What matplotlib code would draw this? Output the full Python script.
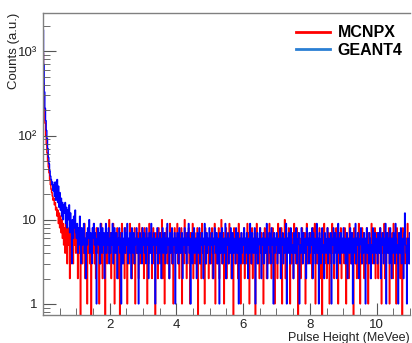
import numpy as np
import matplotlib
matplotlib.use("Agg")
import matplotlib.pyplot as plt
from matplotlib.ticker import FixedLocator, MultipleLocator, LogLocator, FixedFormatter, NullFormatter
from matplotlib.lines import Line2D

plt.rcParams['font.family'] = ['Liberation Sans', 'DejaVu Sans']
plt.rcParams['path.simplify'] = False

# histogram: 0 - 11 MeVee, bin width 0.02
bin_width = 0.02
mcnpx = [
    950, 420, 210, 140, 100, 78, 62, 50, 42, 36, 30, 26, 23, 21, 19, 17, 18, 15, 16, 13, 14, 11, 13, 9, 12,
    8, 11, 7, 10, 6, 9, 5, 8, 4, 9, 6, 3, 8, 5, 7, 2, 6, 8, 4, 6, 3, 9, 5, 7, 4,
    5, 8, 2, 7, 4, 6, 0, 8, 5, 3, 7, 4, 9, 2, 6, 5, 1, 7, 4, 8, 3, 6, 0, 5, 7,
    4, 9, 3, 6, 2, 8, 5, 4, 7, 1, 6, 3, 9, 5, 2, 7, 4, 6, 0, 8, 5, 3, 7, 4, 10,
    4, 7, 2, 6, 5, 9, 3, 1, 7, 5, 4, 8, 2, 6, 5, 0, 7, 4, 9, 3, 5, 6, 2, 8, 4,
    7, 1, 6, 5, 3, 9, 4, 6, 2, 7, 5, 3, 8, 1, 6, 4, 7, 5, 2, 9, 3, 6, 4, 8, 5,
    6, 2, 8, 4, 5, 7, 1, 6, 3, 9, 5, 4, 7, 2, 6, 8, 3, 5, 0, 7, 4, 6, 2, 8, 5,
    3, 7, 4, 10, 2, 6, 5, 1, 7, 4, 8, 3, 6, 5, 2, 9, 4, 7, 3, 6, 1, 5, 8, 4, 6,
    5, 9, 3, 6, 2, 7, 4, 8, 1, 6, 5, 3, 10, 4, 7, 2, 6, 5, 8, 3, 1, 7, 4, 6, 9,
    2, 5, 7, 3, 6, 4, 8, 0, 6, 5, 3, 7, 2, 9, 4, 6, 5, 1, 8, 3, 7, 4, 6, 2, 5,
    7, 3, 5, 8, 2, 6, 4, 9, 1, 7, 5, 3, 6, 8, 2, 5, 4, 10, 3, 6, 7, 1, 5, 4, 8,
    2, 6, 5, 3, 9, 4, 7, 2, 6, 5, 0, 8, 4, 6, 3, 7, 5, 2, 9, 4, 6, 1, 7, 5, 3,
    4, 8, 2, 6, 5, 3, 9, 4, 7, 1, 6, 5, 3, 8, 2, 6, 4, 7, 0, 5, 9, 3, 6, 4, 2,
    8, 5, 7, 3, 6, 1, 5, 8, 4, 6, 2, 7, 5, 3, 9, 4, 6, 2, 5, 8, 3, 7, 1, 6, 4,
    6, 2, 9, 4, 5, 7, 3, 8, 1, 6, 4, 5, 10, 2, 7, 3, 6, 5, 8, 4, 1, 6, 3, 7, 5,
    2, 9, 4, 6, 3, 8, 5, 0, 7, 4, 6, 2, 5, 8, 3, 6, 4, 7, 1, 5, 9, 3, 6, 4, 7,
    3, 7, 5, 2, 8, 4, 6, 9, 1, 5, 7, 3, 6, 4, 8, 2, 5, 6, 0, 7, 4, 9, 3, 6, 5,
    2, 8, 4, 7, 1, 6, 5, 3, 9, 4, 6, 2, 7, 5, 8, 3, 6, 1, 5, 7, 4, 8, 2, 6, 5,
    6, 3, 8, 5, 1, 7, 4, 6, 2, 9, 5, 3, 7, 4, 6, 0, 8, 5, 3, 6, 2, 7, 4, 9, 5,
    1, 6, 3, 8, 4, 7, 2, 5, 6, 3, 8, 4, 1, 7, 5, 6, 2, 9, 4, 3, 6, 5, 8, 2, 7,
    4, 7, 2, 6, 5, 8, 3, 1, 7, 4, 6, 9, 2, 5, 3, 7, 6, 4, 8, 1, 5, 6, 3, 7, 2,
    9, 4, 6, 5, 1, 8, 3, 6, 4, 7, 2, 5, 6, 0, 8, 4, 7, 3, 5, 6, 2, 9, 4, 6, 3,
]
geant4 = [
    1800, 700, 330, 210, 150, 115, 92, 70, 55, 46, 38, 33, 30, 26, 28, 22, 26, 19, 28, 17, 24, 30, 16, 25, 14,
    21, 13, 18, 11, 16, 10, 15, 12, 16, 9, 14, 8, 13, 10, 15, 7, 12, 9, 3, 10, 6, 11, 8, 13, 7,
    6, 9, 4, 8, 5, 11, 6, 3, 8, 5, 7, 9, 4, 6, 2, 7, 5, 8, 6, 10, 4, 7, 5, 3, 8,
    6, 9, 5, 7, 4, 1, 6, 8, 5, 7, 3, 9, 6, 4, 8, 5, 7, 2, 6, 9, 4, 7, 5, 8, 3,
    6, 4, 7, 5, 9, 3, 6, 8, 4, 5, 7, 2, 6, 5, 8, 4, 6, 1, 7, 5, 3, 6, 8, 4, 7,
    5, 9, 3, 6, 4, 7, 5, 2, 8, 6, 4, 7, 3, 5, 6, 8, 4, 6, 1, 5, 7, 4, 6, 3, 8,
    5, 7, 4, 6, 3, 8, 5, 6, 2, 7, 4, 5, 9, 3, 6, 5, 7, 4, 1, 6, 5, 8, 3, 6, 4,
    7, 5, 2, 6, 8, 4, 5, 7, 3, 6, 4, 9, 5, 6, 2, 7, 4, 5, 8, 3, 6, 5, 7, 1, 6,
    4, 7, 5, 3, 8, 6, 4, 5, 7, 2, 6, 5, 8, 4, 6, 3, 7, 5, 9, 4, 6, 1, 5, 7, 3,
    6, 8, 4, 5, 6, 2, 7, 5, 4, 8, 3, 6, 5, 7, 4, 2, 6, 9, 5, 3, 7, 4, 6, 5, 8,
    3, 6, 5, 7, 4, 2, 6, 8, 5, 4, 7, 3, 6, 5, 1, 7, 4, 6, 8, 3, 5, 6, 4, 9, 2,
    6, 5, 7, 3, 6, 4, 8, 5, 2, 7, 4, 6, 5, 3, 8, 6, 4, 7, 1, 5, 6, 3, 7, 4, 6,
    5, 8, 3, 6, 4, 7, 5, 2, 6, 4, 9, 5, 3, 7, 6, 4, 5, 8, 1, 6, 4, 7, 3, 5, 6,
    8, 4, 2, 6, 5, 7, 3, 6, 4, 5, 9, 2, 6, 5, 7, 4, 3, 8, 5, 6, 1, 7, 4, 6, 5,
    7, 3, 5, 6, 4, 8, 2, 6, 5, 7, 3, 6, 4, 5, 9, 1, 6, 4, 7, 5, 3, 8, 6, 4, 5,
    2, 7, 6, 4, 8, 3, 5, 6, 7, 1, 5, 4, 8, 6, 3, 7, 5, 4, 6, 2, 8, 5, 6, 3, 7,
    4, 6, 5, 8, 2, 7, 4, 6, 3, 5, 9, 4, 6, 1, 7, 5, 3, 6, 8, 4, 5, 2, 7, 6, 4,
    5, 8, 3, 6, 5, 4, 7, 1, 6, 5, 8, 3, 4, 7, 6, 2, 5, 9, 4, 6, 3, 7, 5, 4, 6,
    8, 4, 6, 3, 5, 7, 2, 6, 5, 4, 8, 6, 3, 7, 1, 5, 6, 4, 9, 3, 6, 5, 7, 2, 4,
    6, 8, 5, 3, 6, 4, 7, 5, 1, 6, 8, 4, 5, 3, 7, 6, 2, 5, 4, 8, 6, 3, 7, 5, 4,
    6, 3, 7, 5, 4, 8, 2, 6, 5, 7, 3, 4, 6, 9, 1, 5, 7, 4, 6, 3, 8, 5, 2, 6, 4,
    7, 5, 3, 9, 6, 4, 5, 1, 7, 6, 4, 8, 3, 5, 6, 2, 7, 12, 5, 4, 1, 6, 5, 3, 7,
]
series_names = ["MCNPX", "GEANT4"]
y_ticks = [1, 10, 100, 1000]
y_ticklabels = ["1", "10", "10\u00b2", "10\u00b3"]

fig = plt.figure(figsize=(4.12, 3.43), dpi=100)
ax = fig.add_axes([0.104, 0.082, 0.891, 0.880])

for vals, col in [(mcnpx, '#ff0000'), (geant4, '#0000ff')]:
    edges = np.arange(len(vals) + 1) * bin_width
    ax.stairs(vals, edges, color=col, lw=1.0, baseline=None)

ax.set_yscale('log', nonpositive='clip')
ax.set_xlim(0, 11)
ax.set_ylim(0.74, 2850)

# ROOT-like axes
for s in ax.spines.values():
    s.set_color('#808080')
    s.set_linewidth(1.0)
ax.spines['right'].set_visible(False)
ax.tick_params(which='both', direction='in', colors='#555555', labelcolor='#222222',
               top=False, right=False, labelsize=9.5)
ax.tick_params(axis='y', labelsize=9.5, pad=4)
ax.tick_params(which='major', length=9)
ax.tick_params(which='minor', length=5)
ax.tick_params(axis='x', pad=3)

ax.xaxis.set_major_locator(FixedLocator([2, 4, 6, 8, 10]))
ax.xaxis.set_minor_locator(MultipleLocator(0.5))
ax.yaxis.set_major_locator(FixedLocator(y_ticks))
ax.yaxis.set_major_formatter(FixedFormatter(y_ticklabels))
ax.yaxis.set_minor_locator(LogLocator(base=10, subs=np.arange(2, 10)))
ax.yaxis.set_minor_formatter(NullFormatter())

ax.set_xlabel("Pulse Height (MeVee)", fontsize=9, color='#222222', loc='right', labelpad=1)
fig.text(0.035, 0.962, "Counts (a.u.)", rotation=90, ha='center', va='top',
         fontsize=9.5, color='#222222')

handles = [Line2D([0], [0], color='#ff0000', lw=2),
           Line2D([0], [0], color='#2a7fd4', lw=2)]
leg = ax.legend(handles, series_names, loc='upper right', bbox_to_anchor=(1.019, 1.007),
                frameon=False, prop={'weight': 'bold', 'size': 11.5}, handlelength=2.1,
                handletextpad=0.5, labelspacing=0.15, borderaxespad=0.5)

fig.savefig("out.png", dpi=100)
